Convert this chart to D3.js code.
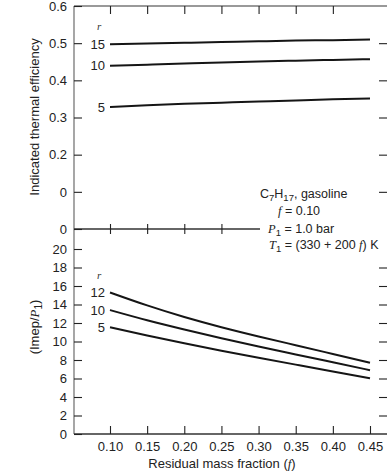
<!DOCTYPE html>
<html><head><meta charset="utf-8">
<script src="https://cdn.jsdelivr.net/npm/d3@7"></script>
<style>body{margin:0;background:#fff}svg{display:block}</style>
</head><body>
<svg id="c" width="387" height="473"></svg>
<script>
// ---- data ----
const fractions = [0.10, 0.15, 0.20, 0.25, 0.30, 0.35, 0.40, 0.45];
const xTickLabels = ["0.10", "0.15", "0.20", "0.25", "0.30", "0.35", "0.40", "0.45"];

const effR = ["15", "10", "5"];
const eff15 = [0.497, 0.499, 0.501, 0.503, 0.505, 0.507, 0.508, 0.510];
const eff10 = [0.439, 0.442, 0.445, 0.448, 0.451, 0.453, 0.455, 0.457];
const eff5  = [0.328, 0.333, 0.337, 0.340, 0.343, 0.346, 0.349, 0.351];

const imepR = ["12", "10", "5"];
const imep12 = [15.3, 13.9, 12.65, 11.55, 10.55, 9.6, 8.65, 7.7];
const imep10 = [13.4, 12.3, 11.3, 10.35, 9.45, 8.6, 7.75, 6.9];
const imep5  = [11.55, 10.65, 9.8, 9.0, 8.25, 7.5, 6.75, 6.02];

const topYTicks = [0, 0.1, 0.2, 0.3, 0.4, 0.5, 0.6];
const topYTickLabels = ["0", "0", "0.2", "0.3", "0.4", "0.5", "0.6"];
const botYTicks = [0, 2, 4, 6, 8, 10, 12, 14, 16, 18, 20];
const botYTickLabels = ["0", "2", "4", "6", "8", "10", "12", "14", "16", "18", "20"];

// ---- layout ----
const L = 74, R = 387, T = 6, M = 229, B = 434;
const svg = d3.select("#c");
const sans = "'Liberation Sans', Arial, Helvetica, sans-serif";
const serif = "'Liberation Serif', 'Times New Roman', serif";

const x = d3.scaleLinear().domain([0.10, 0.45]).range([110, 370]);
const yT = d3.scaleLinear().domain([0, 0.6]).range([M, T]);
const yB = d3.scaleLinear().domain([0, 20]).range([B, 249]);

function style(g) {
  g.select(".domain").remove();
  g.selectAll(".tick line").attr("stroke", "#222").attr("stroke-width", 1.1);
  g.selectAll(".tick text").attr("fill", "#222").style("font-family", sans).style("font-size", "13px");
  return g;
}

// frame lines
const frame = svg.append("g").attr("stroke", "#777").attr("stroke-width", 1.3);
frame.append("line").attr("x1", L).attr("x2", L).attr("y1", T).attr("y2", B);
frame.append("line").attr("x1", L).attr("x2", R).attr("y1", T).attr("y2", T);
frame.append("line").attr("x1", L).attr("x2", R).attr("y1", B).attr("y2", B).attr("stroke", "#333");
frame.append("line").attr("x1", L).attr("x2", 260).attr("y1", M).attr("y2", M).attr("stroke", "#333");

// left axes
svg.append("g").attr("transform", `translate(${L},0)`)
  .call(d3.axisLeft(yT).tickValues(topYTicks).tickFormat((d, i) => topYTickLabels[i]).tickSizeInner(-8).tickSizeOuter(0).tickPadding(7))
  .call(style);
svg.append("g").attr("transform", `translate(${L},0)`)
  .call(d3.axisLeft(yB).tickValues(botYTicks).tickFormat((d, i) => botYTickLabels[i]).tickSizeInner(-8).tickSizeOuter(0).tickPadding(7))
  .call(style);

// right ticks
svg.append("g").attr("transform", `translate(${R},0)`)
  .call(d3.axisRight(yT).tickValues(topYTicks.slice(1, 6)).tickFormat("").tickSizeInner(-8).tickSizeOuter(0))
  .call(style);
svg.append("g").attr("transform", `translate(${R},0)`)
  .call(d3.axisRight(yB).tickValues(botYTicks.slice(1, 10)).tickFormat("").tickSizeInner(-8).tickSizeOuter(0))
  .call(style);

// bottom axis
svg.append("g").attr("transform", `translate(0,${B})`)
  .call(d3.axisBottom(x).tickValues(fractions).tickFormat((d, i) => xTickLabels[i]).tickSizeInner(-8).tickSizeOuter(0).tickPadding(8))
  .call(style);
// top ticks
svg.append("g").attr("transform", `translate(0,${T})`)
  .call(d3.axisTop(x).tickValues(fractions.slice(0, 7)).tickFormat("").tickSizeInner(-8).tickSizeOuter(0))
  .call(style);
// middle crossing ticks
const mid = svg.append("g").attr("transform", `translate(0,${M})`)
  .call(d3.axisBottom(x).tickValues(fractions.slice(0, 4)).tickFormat("").tickSizeInner(5).tickSizeOuter(0))
  .call(style);
mid.selectAll(".tick line").attr("y1", -5);

// series lines
const lineT = d3.line().x(d => x(d[0])).y(d => yT(d[1])).curve(d3.curveNatural);
const lineB = d3.line().x(d => x(d[0])).y(d => yB(d[1])).curve(d3.curveNatural);
const topSeries = [eff15, eff10, eff5];
const botSeries = [imep12, imep10, imep5];

topSeries.forEach((s, i) => {
  svg.append("path").datum(fractions.map((f, j) => [f, s[j]]))
    .attr("d", lineT).attr("fill", "none").attr("stroke", "#151515").attr("stroke-width", 2);
  svg.append("text").attr("x", x(fractions[0]) - 5).attr("y", yT(s[0])).attr("dy", "0.35em")
    .attr("text-anchor", "end").style("font-family", sans).style("font-size", "13px").attr("fill", "#222").text(effR[i]);
});
botSeries.forEach((s, i) => {
  svg.append("path").datum(fractions.map((f, j) => [f, s[j]]))
    .attr("d", lineB).attr("fill", "none").attr("stroke", "#151515").attr("stroke-width", 2);
  svg.append("text").attr("x", x(fractions[0]) - 5).attr("y", yB(s[0])).attr("dy", "0.35em")
    .attr("text-anchor", "end").style("font-family", sans).style("font-size", "13px").attr("fill", "#222").text(imepR[i]);
});
// "r" headers
svg.append("text").attr("x", x(fractions[0]) - 13).attr("y", yT(eff15[0]) - 18).attr("dy", "0.35em")
  .style("font-family", serif).style("font-style", "italic").style("font-size", "11px").attr("fill", "#333").text("r");
svg.append("text").attr("x", x(fractions[0]) - 13).attr("y", yB(imep12[0]) - 17).attr("dy", "0.35em")
  .style("font-family", serif).style("font-style", "italic").style("font-size", "11px").attr("fill", "#333").text("r");

// axis titles
svg.append("text").attr("transform", "translate(39,117) rotate(-90)").attr("text-anchor", "middle")
  .style("font-family", sans).style("font-size", "13px").attr("fill", "#222").text("Indicated thermal efficiency");
const yt2 = svg.append("text").attr("transform", "translate(39,327) rotate(-90)").attr("text-anchor", "middle")
  .style("font-family", sans).style("font-size", "13px").attr("fill", "#222");
yt2.append("tspan").text("(Imep/");
yt2.append("tspan").style("font-family", serif).style("font-style", "italic").text("P");
yt2.append("tspan").attr("dy", 3).style("font-size", "10px").text("1");
yt2.append("tspan").attr("dy", -3).text(")");

const xt = svg.append("text").attr("x", 222).attr("y", 468).attr("text-anchor", "middle")
  .style("font-family", sans).style("font-size", "13px").attr("fill", "#222");
xt.append("tspan").text("Residual mass fraction (");
xt.append("tspan").style("font-family", serif).style("font-style", "italic").text("f");
xt.append("tspan").text(")");

// annotation
const ann = svg.append("g").style("font-family", sans).style("font-size", "12.5px").attr("fill", "#222");
const a1 = ann.append("text").attr("x", 260).attr("y", 198);
a1.append("tspan").text("C");
a1.append("tspan").attr("dy", 3).style("font-size", "9.5px").text("7");
a1.append("tspan").attr("dy", -3).text("H");
a1.append("tspan").attr("dy", 3).style("font-size", "9.5px").text("17");
a1.append("tspan").attr("dy", -3).text(", gasoline");
const a2 = ann.append("text").attr("x", 278).attr("y", 215);
a2.append("tspan").style("font-family", serif).style("font-style", "italic").text("f");
a2.append("tspan").text(" = 0.10");
const a3 = ann.append("text").attr("x", 268).attr("y", 233);
a3.append("tspan").style("font-family", serif).style("font-style", "italic").text("P");
a3.append("tspan").attr("dy", 3).style("font-size", "9.5px").text("1");
a3.append("tspan").attr("dy", -3).text(" = 1.0 bar");
const a4 = ann.append("text").attr("x", 269).attr("y", 249);
a4.append("tspan").style("font-family", serif).style("font-style", "italic").text("T");
a4.append("tspan").attr("dy", 3).style("font-size", "9.5px").text("1");
a4.append("tspan").attr("dy", -3).text(" = (330 + 200 ");
a4.append("tspan").style("font-family", serif).style("font-style", "italic").text("f");
a4.append("tspan").text(") K");
</script>
</body></html>
